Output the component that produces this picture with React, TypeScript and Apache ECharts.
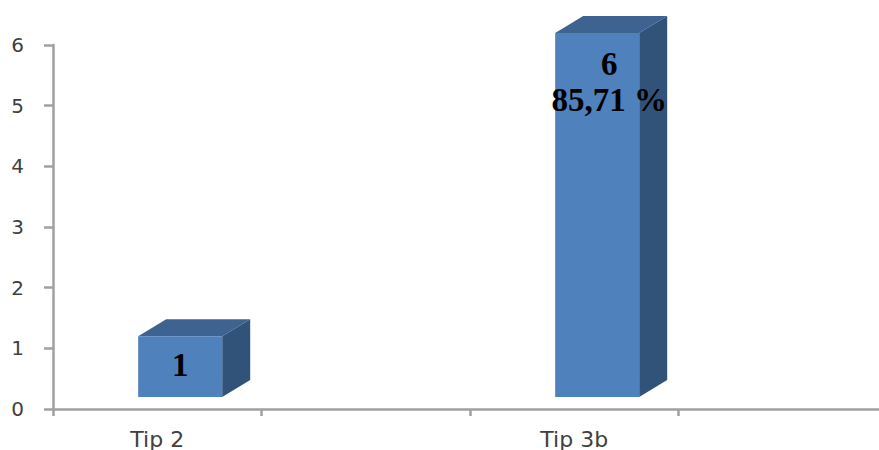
import React, { useEffect, useRef } from "react";
import * as echarts from "echarts";

const categories = ["Tip 2", "", "Tip 3b", ""];
const values: (number | null)[] = [1, null, 6, null];
const percents: (string | null)[] = [null, null, "85,71 %", null];

const yTicks = { min: 0, max: 6, interval: 1 };

export default function App() {
  const ref = useRef<HTMLDivElement>(null);
  useEffect(() => {
    document.body.style.margin = "0";
    document.body.style.overflow = "hidden";
    const chart = echarts.init(ref.current!, null, { renderer: "svg" });
    const axisColor = "#a0a0a0";
    const seriesData = categories.map((_, i) => [i, values[i] as any]);
    chart.setOption({
      animation: false,
      backgroundColor: "#ffffff",
      grid: { left: 53, top: 45, width: 834, height: 364 },
      xAxis: {
        type: "category",
        data: categories,
        boundaryGap: true,
        axisLine: { show: true, onZero: false, lineStyle: { color: axisColor, width: 2.5 } },
        axisTick: { show: true, length: 7, interval: 0, lineStyle: { color: axisColor, width: 2.5 } },
        axisLabel: {
          interval: 0,
          margin: 19,
          fontFamily: "DejaVu Sans",
          fontSize: 22,
          color: "#404040",
        },
        splitLine: { show: false },
      },
      yAxis: {
        type: "value",
        min: yTicks.min,
        max: yTicks.max,
        interval: yTicks.interval,
        axisLine: { show: true, lineStyle: { color: axisColor, width: 2.5 } },
        axisTick: { show: true, length: 9, lineStyle: { color: axisColor, width: 2.5 } },
        axisLabel: {
          margin: 29,
          fontFamily: "DejaVu Sans",
          fontSize: 20,
          color: "#404040",
        },
        splitLine: { show: false },
      },
      series: [
        {
          type: "custom",
          clip: false,
          data: seriesData,
          encode: { x: 0, y: 1 },
          renderItem: (params: any, api: any) => {
            const i = params.dataIndex;
            const val = api.value(1);
            if (val === null || val === undefined || isNaN(val)) return null;
            const slot = api.size([1, 0])[0];
            const bw = slot * 0.403;
            const lift = 12;
            const dx = 28;
            const dy = 17;
            const [cx, yTop0] = api.coord([i, val]);
            const [, yBase0] = api.coord([i, 0]);
            const x0 = cx + slot * 0.11 - bw / 2;
            const x1 = x0 + bw;
            const yTop = yTop0 - lift;
            const yBase = yBase0 - lift;
            const pct = percents[i];
            const text = pct ? `${val}\n${pct}` : `${val}`;
            const textX = (x0 + x1) / 2 + (pct ? 12 : 0);
            const textY = yTop + (pct ? 13 : 11);
            return {
              type: "group",
              children: [
                {
                  type: "polygon",
                  shape: { points: [[x0, yTop], [x1, yTop], [x1 + dx, yTop - dy], [x0 + dx, yTop - dy]] },
                  style: { fill: "#3f6391" },
                },
                {
                  type: "polygon",
                  shape: { points: [[x1, yTop], [x1 + dx, yTop - dy], [x1 + dx, yBase - dy], [x1, yBase]] },
                  style: { fill: "#325379" },
                },
                {
                  type: "rect",
                  shape: { x: x0, y: yTop, width: bw, height: yBase - yTop },
                  style: { fill: "#4f81bd" },
                },
                {
                  type: "text",
                  x: textX,
                  y: textY,
                  z2: 10,
                  style: {
                    text,
                    align: "center",
                    verticalAlign: "top",
                    font: 'bold 33px "Liberation Serif"',
                    lineHeight: 36,
                    fill: "#000000",
                  },
                },
              ],
            };
          },
        },
      ],
    });
    return () => chart.dispose();
  }, []);
  return (
    <div style={{ width: 879, height: 450, overflow: "hidden" }}>
      <div ref={ref} style={{ width: 887, height: 450 }} />
    </div>
  );
}
